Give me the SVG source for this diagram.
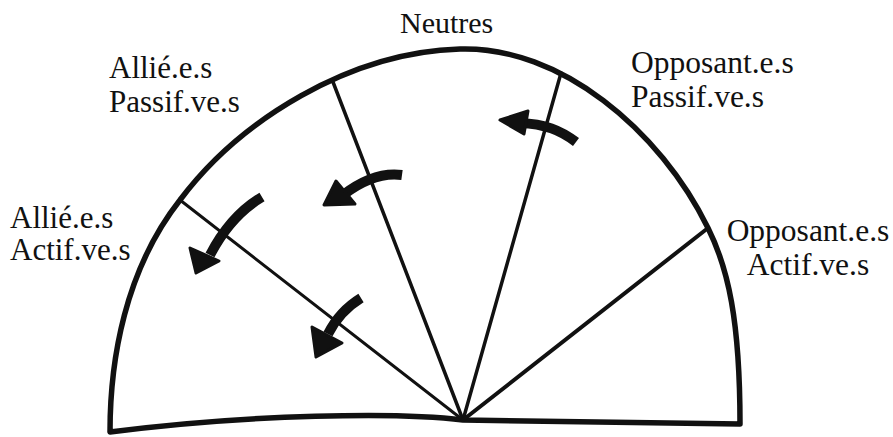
<svg xmlns="http://www.w3.org/2000/svg" width="893" height="437" viewBox="0 0 893 437">
<style>
.lbl{font-family:"Liberation Serif","DejaVu Serif","Times New Roman",Times,serif;font-size:31px;fill:#111}
.big{font-size:31.5px}
.out{fill:none;stroke:#111;stroke-width:5.5;stroke-linejoin:round;stroke-linecap:round}
.rad{fill:none;stroke:#111;stroke-linecap:round}
.shaft{fill:none;stroke:#111;stroke-width:10;stroke-linecap:butt}
.head{fill:#111;stroke:#111;stroke-width:3;stroke-linejoin:round}
</style>
<rect width="893" height="437" fill="#fff"/>
<g id="outline">
<path class="out" d="M110,432 C110,360 125,270 180,200 C240,120 350,52 460,49 C560,46 660,130 708,228 C728,268 740,320 740,424 L463,420 C400,412 250,414 110,432 Z"/>
</g>
<g id="radials">
<line class="rad" x1="463" y1="420" x2="180" y2="200" stroke-width="3"/>
<line class="rad" x1="463" y1="420" x2="333" y2="82" stroke-width="3.5"/>
<line class="rad" x1="463" y1="420" x2="561" y2="73" stroke-width="3.5"/>
<line class="rad" x1="463" y1="420" x2="708" y2="228" stroke-width="4"/>
</g>
<g id="arrows">
<g id="arrow1">
<path class="shaft" d="M576,142 C560,130 545,124 520,123"/>
<polygon class="head" points="500,120 528,111 524,134"/>
</g>
<g id="arrow2">
<path class="shaft" d="M402,175 C380,172 360,182 343,195"/>
<polygon class="head" points="324,205 336,181 355,204"/>
</g>
<g id="arrow3">
<path class="shaft" d="M262,197 C240,210 222,232 210,255"/>
<polygon class="head" points="196,273 190,248 219,261"/>
</g>
<g id="arrow4">
<path class="shaft" d="M361,298 C348,306 336,318 328,334"/>
<polygon class="head" points="316,357 312,327 342,343"/>
</g>
</g>
<g id="label-neutres"><text class="lbl" x="400" y="33" style="font-size:30px">Neutres</text></g>
<g id="label-allies-passifs"><text class="lbl" x="109" y="78">Allié.e.s</text><text class="lbl" x="109" y="112">Passif.ve.s</text></g>
<g id="label-opposants-passifs"><text class="lbl big" x="631" y="73">Opposant.e.s</text><text class="lbl big" x="631" y="107">Passif.ve.s</text></g>
<g id="label-allies-actifs"><text class="lbl" x="10" y="228">Allié.e.s</text><text class="lbl" x="10" y="260">Actif.ve.s</text></g>
<g id="label-opposants-actifs"><text class="lbl big" x="808" y="241" text-anchor="middle">Opposant.e.s</text><text class="lbl big" x="808" y="275" text-anchor="middle">Actif.ve.s</text></g>
</svg>
